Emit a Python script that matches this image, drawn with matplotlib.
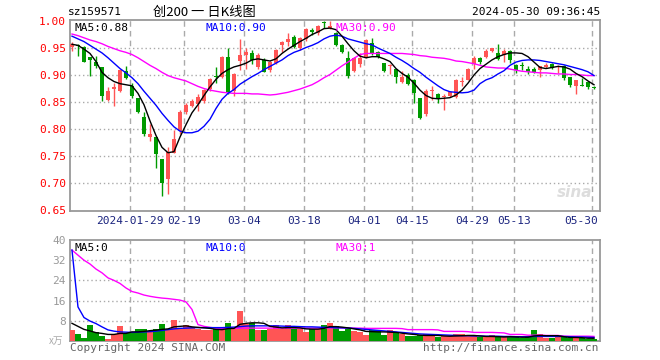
#!/usr/bin/env python3
"""
Daily K-line chart for sz159571 (创200) with MA5/MA10/MA30 and a volume panel.

Renders a Sina-finance style candlestick chart to out.png (660x360).
"""

import matplotlib

matplotlib.use("Agg")

import matplotlib.pyplot as plt  # noqa: E402

# ── Data ──────────────────────────────────────────────────────
# one entry per trading day, 2024-01-15 .. 2024-05-30
open_ = [
    0.952, 0.955, 0.952, 0.933, 0.924, 0.914, 0.854, 0.875, 0.871, 0.907,
    0.880, 0.857, 0.822, 0.786, 0.785, 0.744, 0.708, 0.756, 0.797, 0.831,
    0.843, 0.846, 0.851, 0.874, 0.899, 0.897, 0.934, 0.870, 0.926, 0.937,
    0.940, 0.914, 0.928, 0.909, 0.923, 0.955, 0.961, 0.971, 0.951, 0.966,
    0.984, 0.978, 0.999, 0.988, 0.977, 0.956, 0.932, 0.907, 0.921, 0.933,
    0.959, 0.943, 0.922, 0.916, 0.911, 0.888, 0.900, 0.891, 0.857, 0.827,
    0.870, 0.865, 0.860, 0.862, 0.859, 0.887, 0.891, 0.920, 0.932, 0.934,
    0.944, 0.941, 0.938, 0.945, 0.919, 0.917, 0.911, 0.912, 0.910, 0.915,
    0.920, 0.915, 0.916, 0.896, 0.880, 0.881, 0.887, 0.878,
]
high = [
    0.9605, 0.957, 0.953, 0.934, 0.935, 0.915, 0.877, 0.885, 0.911, 0.917,
    0.885, 0.857, 0.832, 0.809, 0.786, 0.745, 0.767, 0.798, 0.836, 0.848,
    0.855, 0.864, 0.875, 0.894, 0.915, 0.936, 0.951, 0.903, 0.966, 0.951,
    0.946, 0.940, 0.932, 0.926, 0.948, 0.963, 0.978, 0.975, 0.970, 0.988,
    0.988, 0.993, 1.001, 1.000, 0.979, 0.957, 0.944, 0.934, 0.940, 0.966,
    0.969, 0.944, 0.923, 0.920, 0.912, 0.908, 0.904, 0.892, 0.858, 0.874,
    0.880, 0.866, 0.864, 0.871, 0.892, 0.896, 0.913, 0.936, 0.933, 0.948,
    0.951, 0.957, 0.949, 0.946, 0.920, 0.924, 0.916, 0.914, 0.917, 0.922,
    0.922, 0.918, 0.918, 0.897, 0.891, 0.894, 0.889, 0.879,
]
low = [
    0.944, 0.935, 0.924, 0.898, 0.913, 0.851, 0.852, 0.842, 0.869, 0.893,
    0.858, 0.830, 0.787, 0.777, 0.727, 0.675, 0.680, 0.755, 0.790, 0.828,
    0.840, 0.833, 0.848, 0.870, 0.886, 0.895, 0.864, 0.861, 0.910, 0.912,
    0.921, 0.912, 0.905, 0.905, 0.921, 0.942, 0.954, 0.951, 0.946, 0.963,
    0.975, 0.975, 0.988, 0.985, 0.954, 0.941, 0.895, 0.905, 0.915, 0.931,
    0.938, 0.932, 0.905, 0.902, 0.886, 0.886, 0.881, 0.849, 0.818, 0.825,
    0.854, 0.849, 0.836, 0.859, 0.857, 0.880, 0.890, 0.911, 0.920, 0.932,
    0.943, 0.927, 0.925, 0.922, 0.904, 0.910, 0.902, 0.904, 0.897, 0.913,
    0.912, 0.904, 0.891, 0.877, 0.864, 0.879, 0.875, 0.874,
]
close = [
    0.957, 0.954, 0.925, 0.928, 0.916, 0.861, 0.871, 0.877, 0.910, 0.894,
    0.862, 0.832, 0.791, 0.791, 0.753, 0.699, 0.757, 0.781, 0.831, 0.844,
    0.852, 0.859, 0.873, 0.892, 0.897, 0.934, 0.869, 0.901, 0.938, 0.943,
    0.928, 0.938, 0.906, 0.924, 0.946, 0.961, 0.967, 0.952, 0.968, 0.986,
    0.980, 0.991, 0.997, 0.990, 0.956, 0.943, 0.898, 0.932, 0.932, 0.965,
    0.941, 0.934, 0.907, 0.918, 0.896, 0.896, 0.883, 0.866, 0.820, 0.871,
    0.871, 0.856, 0.861, 0.868, 0.890, 0.888, 0.911, 0.932, 0.925, 0.945,
    0.950, 0.930, 0.944, 0.928, 0.909, 0.916, 0.905, 0.906, 0.916, 0.919,
    0.913, 0.916, 0.894, 0.881, 0.890, 0.880, 0.877, 0.876,
]
ma5 = [
    0.957, 0.955, 0.948, 0.940, 0.925, 0.905, 0.895, 0.888, 0.884, 0.882,
    0.880, 0.866, 0.845, 0.815, 0.788, 0.766, 0.756, 0.758, 0.785, 0.808,
    0.830, 0.845, 0.862, 0.878, 0.892, 0.903, 0.910, 0.915, 0.918, 0.922,
    0.928, 0.930, 0.928, 0.926, 0.930, 0.940, 0.948, 0.955, 0.962, 0.968,
    0.975, 0.980, 0.986, 0.987, 0.984, 0.972, 0.958, 0.945, 0.935, 0.932,
    0.934, 0.934, 0.930, 0.925, 0.912, 0.903, 0.896, 0.885, 0.872, 0.862,
    0.857, 0.856, 0.857, 0.858, 0.863, 0.872, 0.885, 0.900, 0.912, 0.920,
    0.928, 0.934, 0.938, 0.941, 0.941, 0.940, 0.934, 0.924, 0.914, 0.912,
    0.914, 0.916, 0.915, 0.911, 0.903, 0.897, 0.889, 0.882,
]
ma10 = [
    0.972, 0.967, 0.962, 0.955, 0.948, 0.941, 0.932, 0.922, 0.912, 0.904,
    0.895, 0.884, 0.870, 0.857, 0.844, 0.829, 0.816, 0.804, 0.796, 0.793,
    0.793, 0.796, 0.805, 0.818, 0.838, 0.855, 0.866, 0.873, 0.883, 0.890,
    0.897, 0.903, 0.910, 0.916, 0.922, 0.928, 0.936, 0.942, 0.946, 0.951,
    0.955, 0.960, 0.967, 0.972, 0.974, 0.972, 0.967, 0.964, 0.961, 0.958,
    0.956, 0.950, 0.945, 0.940, 0.933, 0.927, 0.920, 0.912, 0.905, 0.896,
    0.888, 0.880, 0.873, 0.869, 0.868, 0.867, 0.868, 0.872, 0.884, 0.891,
    0.895, 0.902, 0.908, 0.918, 0.924, 0.927, 0.928, 0.928, 0.927, 0.925,
    0.923, 0.921, 0.919, 0.916, 0.913, 0.910, 0.906, 0.899,
]
ma30 = [
    0.976, 0.973, 0.969, 0.965, 0.962, 0.958, 0.953, 0.949, 0.945, 0.942,
    0.938, 0.932, 0.925, 0.918, 0.912, 0.905, 0.899, 0.895, 0.892, 0.889,
    0.884, 0.879, 0.875, 0.872, 0.870, 0.868, 0.867, 0.866, 0.866, 0.866,
    0.865, 0.865, 0.864, 0.863, 0.864, 0.866, 0.868, 0.871, 0.874, 0.878,
    0.882, 0.888, 0.895, 0.901, 0.909, 0.917, 0.924, 0.931, 0.938, 0.940,
    0.940, 0.940, 0.940, 0.940, 0.940, 0.940, 0.939, 0.938, 0.936, 0.935,
    0.933, 0.932, 0.931, 0.929, 0.926, 0.925, 0.923, 0.921, 0.918, 0.915,
    0.914, 0.913, 0.913, 0.911, 0.909, 0.907, 0.906, 0.905, 0.904, 0.904,
    0.903, 0.902, 0.902, 0.901, 0.901, 0.900, 0.899, 0.899,
]
volume = [
    4.2, 2.9, 1.2, 6.2, 3.6, 1.9, 0.9, 2.9, 5.8, 3.3,
    3.6, 4.6, 4.6, 3.6, 4.6, 6.6, 4.6, 8.2, 4.6, 6.5,
    5.6, 4.6, 4.2, 4.5, 4.6, 4.5, 7.2, 4.6, 11.8, 6.9,
    7.2, 4.5, 4.5, 4.6, 6.5, 4.6, 6.2, 4.6, 4.6, 3.6,
    4.6, 4.6, 6.2, 7.2, 5.8, 4.0, 4.8, 4.0, 3.6, 2.3,
    4.5, 4.5, 2.3, 4.2, 3.6, 2.6, 1.9, 1.9, 2.3, 2.9,
    2.3, 1.6, 1.9, 1.9, 2.6, 2.6, 1.9, 1.9, 1.6, 1.6,
    2.3, 1.6, 1.6, 1.6, 1.6, 1.3, 1.6, 4.2, 2.6, 1.3,
    1.2, 1.6, 1.6, 1.3, 1.3, 1.2, 0.9, 0.8,
]
vol_ma5 = [
    7.0, 5.8, 4.6, 4.0, 3.3, 3.0, 2.6, 2.6, 3.0, 3.0,
    3.6, 3.6, 3.8, 4.1, 4.3, 4.6, 4.8, 5.6, 5.8, 6.0,
    5.6, 5.4, 5.2, 5.0, 4.6, 4.5, 4.9, 5.0, 6.6, 7.0,
    7.2, 7.2, 7.0, 5.8, 5.5, 5.2, 5.3, 5.3, 5.2, 4.8,
    4.7, 4.7, 5.0, 5.7, 5.7, 5.5, 5.2, 4.8, 4.4, 3.8,
    3.7, 3.6, 3.6, 3.5, 3.4, 3.1, 2.8, 2.6, 2.3, 2.2,
    2.2, 2.2, 2.0, 1.9, 2.0, 2.1, 2.2, 2.2, 2.0, 1.8,
    1.8, 1.7, 1.6, 1.7, 1.6, 1.5, 1.5, 2.0, 2.2, 2.1,
    2.1, 2.1, 1.7, 1.4, 1.4, 1.3, 1.1, 1.1,
]
vol_ma10 = [
    36.0, 13.5, 9.3, 7.9, 6.9, 5.6, 4.4, 3.9, 3.6, 3.5,
    3.4, 3.5, 3.6, 3.7, 3.9, 4.2, 4.5, 4.8, 5.0, 5.1,
    5.2, 5.3, 5.3, 5.3, 5.3, 5.3, 5.4, 5.5, 5.7, 5.9,
    6.0, 6.0, 6.0, 6.0, 6.0, 5.9, 5.8, 5.8, 5.7, 5.6,
    5.6, 5.5, 5.4, 5.4, 5.3, 5.2, 5.1, 5.0, 4.8, 4.6,
    4.4, 4.2, 4.0, 3.8, 3.6, 3.4, 3.2, 3.0, 2.8, 2.7,
    2.6, 2.5, 2.4, 2.3, 2.2, 2.1, 2.1, 2.0, 2.0, 1.9,
    1.9, 1.9, 1.8, 1.8, 1.7, 1.7, 1.7, 1.8, 1.8, 1.8,
    1.8, 1.8, 1.8, 1.7, 1.6, 1.6, 1.5, 1.4,
]
vol_ma30 = [
    36.0, 34.0, 32.0, 30.5, 28.5, 27.0, 25.0, 24.0, 22.8, 21.0,
    19.6, 19.0, 18.2, 17.7, 17.3, 17.0, 16.8, 16.5, 16.2, 15.5,
    12.5, 6.5, 5.8, 5.4, 5.1, 5.0, 5.0, 5.0, 5.1, 5.1,
    5.1, 5.1, 5.1, 5.1, 5.1, 5.1, 5.1, 5.1, 5.1, 5.1,
    5.1, 5.1, 5.1, 5.2, 5.2, 5.2, 5.2, 5.1, 5.1, 5.0,
    5.0, 5.0, 5.0, 5.0, 5.0, 4.9, 4.5, 4.5, 4.5, 4.5,
    4.5, 4.4, 3.8, 3.8, 3.8, 3.8, 3.7, 3.4, 3.4, 3.4,
    3.4, 3.3, 3.2, 2.6, 2.6, 2.6, 2.3, 2.3, 2.3, 2.2,
    2.2, 2.2, 1.9, 1.9, 1.9, 1.9, 1.9, 1.8,
]

# date axis: trading-day index of each labelled date
date_idx = [10, 19, 29, 39, 49, 57, 67, 74, 87]
date_labels = ["2024-01-29", "02-19", "03-04", "03-18", "04-01",
               "04-15", "04-29", "05-13", "05-30"]
price_ticks = [0.65, 0.70, 0.75, 0.80, 0.85, 0.90, 0.95, 1.00]
vol_ticks = [8, 16, 24, 32, 40]

RED = "#ff5555"
GREEN = "#009a00"
FRAME = "#999999"
GRID = "#aaaaaa"
MONO = "DejaVu Sans Mono"


def style_axes(ax):
    """Gray frame, no tick marks, vertical dashed date lines."""
    for side in ax.spines.values():
        side.set_color(FRAME)
        side.set_linewidth(1.3)
    ax.tick_params(length=0)
    ax.set_xticks([])
    for i in date_idx:
        ax.axvline(i - 0.3, color=GRID, lw=1.0, ls=(0, (4, 3)), zorder=0)


def draw_candles(ax):
    n = len(close)
    for i in range(n):
        up = close[i] >= open_[i]
        col = RED if up else GREEN
        ax.vlines(i, low[i], high[i], color=col, lw=1.0, zorder=3)
        lo = min(open_[i], close[i])
        h = max(abs(close[i] - open_[i]), 0.0018)
        ax.bar(i, h, bottom=lo, width=0.78, color=col, lw=0, zorder=4)
    x = list(range(n))
    ax.plot(x, ma30, color="#ff00ff", lw=1.0, zorder=5)
    ax.plot(x, ma10, color="#0000ff", lw=1.0, zorder=5)
    ax.plot(x, ma5, color="black", lw=1.0, zorder=5)


def draw_volume(ax):
    n = len(volume)
    cols = [RED if close[i] >= open_[i] else GREEN for i in range(n)]
    ax.bar(range(n), volume, width=0.88, color=cols, lw=0, zorder=3)
    x = list(range(n))
    ax.plot(x, vol_ma30, color="#ff00ff", lw=1.0, zorder=5)
    ax.plot(x, vol_ma10, color="#0000ff", lw=1.0, zorder=5)
    ax.plot(x, vol_ma5, color="black", lw=1.0, zorder=5)


def main():
    fig = plt.figure(figsize=(6.6, 3.6), dpi=100)
    fig.patch.set_facecolor("white")

    # ── Price panel ───────────────────────────────────────────
    ax = fig.add_axes([70 / 660, 1 - 211 / 360, 530 / 660, 191 / 360])
    ax.set_xlim(-0.33, 88.0)
    ax.set_ylim(0.648, 1.002)
    style_axes(ax)
    for p in price_ticks[1:-1]:
        ax.axhline(p, color=GRID, lw=1.0, ls=(0, (1, 2)), zorder=0)
    ax.set_yticks(price_ticks)
    ax.set_yticklabels([f"{p:.2f}" for p in price_ticks], color="red",
                       family=MONO, fontsize=8)
    ax.tick_params(axis="y", pad=3)
    draw_candles(ax)

    for i, lab in zip(date_idx, date_labels):
        xpos = i - 0.3 if i != date_idx[-1] else i - 2.1
        ax.text(xpos, -0.05, lab, transform=ax.get_xaxis_transform(),
                ha="center", va="center", color="#1a237e", family=MONO,
                fontsize=8)

    ax.text(0.008, 0.985, "MA5:0.88", transform=ax.transAxes, ha="left",
            va="top", family=MONO, fontsize=8, color="black", zorder=6)
    ax.text(0.255, 0.985, "MA10:0.90", transform=ax.transAxes, ha="left",
            va="top", family=MONO, fontsize=8, color="blue", zorder=6)
    ax.text(0.5, 0.985, "MA30:0.90", transform=ax.transAxes, ha="left",
            va="top", family=MONO, fontsize=8, color="#ff00ff", zorder=6)
    ax.text(0.985, 0.06, "sina", transform=ax.transAxes, ha="right",
            va="bottom", fontsize=11, style="italic", weight="bold",
            color="#dddddd", zorder=1)

    # ── Volume panel ──────────────────────────────────────────
    vx = fig.add_axes([70 / 660, 1 - 341 / 360, 530 / 660, 101 / 360])
    vx.set_xlim(-0.33, 88.0)
    vx.set_ylim(0, 40)
    style_axes(vx)
    for v in vol_ticks[:-1]:
        vx.axhline(v, color=GRID, lw=1.0, ls=(0, (1, 2)), zorder=0)
    vx.set_yticks(vol_ticks)
    vx.set_yticklabels([str(v) for v in vol_ticks], color="#999999",
                       family=MONO, fontsize=8)
    vx.tick_params(axis="y", pad=3)
    vx.text(-0.012, 0.0, "x万", transform=vx.transAxes, ha="right",
            va="center", color="#aaaaaa", fontsize=7,
            family=["Noto Sans CJK SC", "DejaVu Sans"])
    draw_volume(vx)

    vx.text(0.008, 0.97, "MA5:0", transform=vx.transAxes, ha="left",
            va="top", family=MONO, fontsize=8, color="black", zorder=6)
    vx.text(0.255, 0.97, "MA10:0", transform=vx.transAxes, ha="left",
            va="top", family=MONO, fontsize=8, color="blue", zorder=6)
    vx.text(0.5, 0.97, "MA30:1", transform=vx.transAxes, ha="left",
            va="top", family=MONO, fontsize=8, color="#ff00ff", zorder=6)

    # ── Header / footer ───────────────────────────────────────
    fig.text(68 / 660, 1 - 12 / 360, "sz159571", ha="left", va="center",
             family=MONO, fontsize=8)
    fig.text(204 / 660, 1 - 12 / 360, "创200 一 日K线图", ha="center",
             va="center", fontsize=9.5,
             family=["Noto Sans CJK SC", "DejaVu Sans"])
    fig.text(600 / 660, 1 - 12 / 360, "2024-05-30 09:36:45", ha="right",
             va="center", family=MONO, fontsize=8)
    fig.text(70 / 660, 1 - 348 / 360, "Copyright 2024 SINA.COM", ha="left",
             va="center", family=MONO, fontsize=8, color="#666666")
    fig.text(598 / 660, 1 - 348 / 360, "http://finance.sina.com.cn",
             ha="right", va="center", family=MONO, fontsize=8,
             color="#666666")

    fig.savefig("out.png", dpi=100, facecolor="white")
    plt.close(fig)


if __name__ == "__main__":
    main()
